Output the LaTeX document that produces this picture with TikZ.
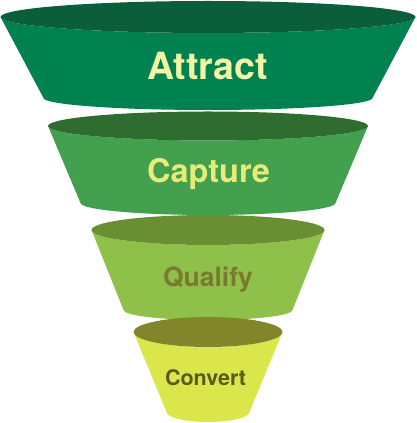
\documentclass[tikz,border=0pt]{standalone}
\usepackage{fontspec}
\setmainfont{TeX Gyre Heros}
\definecolor{bodyA}{RGB}{0,130,80}
\definecolor{topA}{RGB}{10,94,58}
\definecolor{bodyB}{RGB}{67,160,78}
\definecolor{topB}{RGB}{46,108,48}
\definecolor{bodyC}{RGB}{143,192,74}
\definecolor{topC}{RGB}{106,143,51}
\definecolor{bodyD}{RGB}{219,230,75}
\definecolor{topD}{RGB}{130,134,42}
\definecolor{txtA}{RGB}{242,245,166}
\definecolor{txtB}{RGB}{230,236,122}
\definecolor{txtC}{RGB}{122,122,46}
\definecolor{txtD}{RGB}{90,90,30}
\tikzset{lbl/.style={anchor=base,font=\bfseries,inner sep=0pt}}
% #1 body color, #2 top color, #3 cx, #4 top Y, #5 top rx, #6 top ry, #7 bottom Y, #8 bottom rx, #9 bottom ry
\newcommand{\funnellayer}[9]{%
  \fill[#1] (#3-#5,#4) -- (#3-#8,#7) arc[start angle=180,end angle=360,x radius=#8pt,y radius=#9pt]
     -- (#3+#5,#4) arc[start angle=0,end angle=-180,x radius=#5pt,y radius=#6pt] -- cycle;
  \fill[#2] (#3,#4) ellipse[x radius=#5pt,y radius=#6pt];
}
\begin{document}
\begin{tikzpicture}[x=1pt,y=1pt]
\useasboundingbox (0,0) rectangle (417,423);
\funnellayer{bodyA}{topA}{208}{406}{207.5}{16}{325}{164.5}{12}
\funnellayer{bodyB}{topB}{208}{297}{160}{14.5}{220}{127.5}{12}
\funnellayer{bodyC}{topC}{208}{193}{116.5}{15}{113}{84.5}{10}
\funnellayer{bodyD}{topD}{208}{91}{74.5}{15}{11}{41.5}{10}
\node[lbl,text=txtA,font=\bfseries\fontsize{37.5}{40}\selectfont] (attract) at (207.5,343) {Attract};
\node[lbl,text=txtB,font=\bfseries\fontsize{32.5}{36}\selectfont] (capture) at (208.5,240) {Capture};
\node[lbl,text=txtC,font=\bfseries\fontsize{26.5}{30}\selectfont] (qualify) at (208,136) {Qualify};
\node[lbl,text=txtD,font=\bfseries\fontsize{21.5}{24}\selectfont] (convert) at (205.5,37) {Convert};
\end{tikzpicture}
\end{document}
